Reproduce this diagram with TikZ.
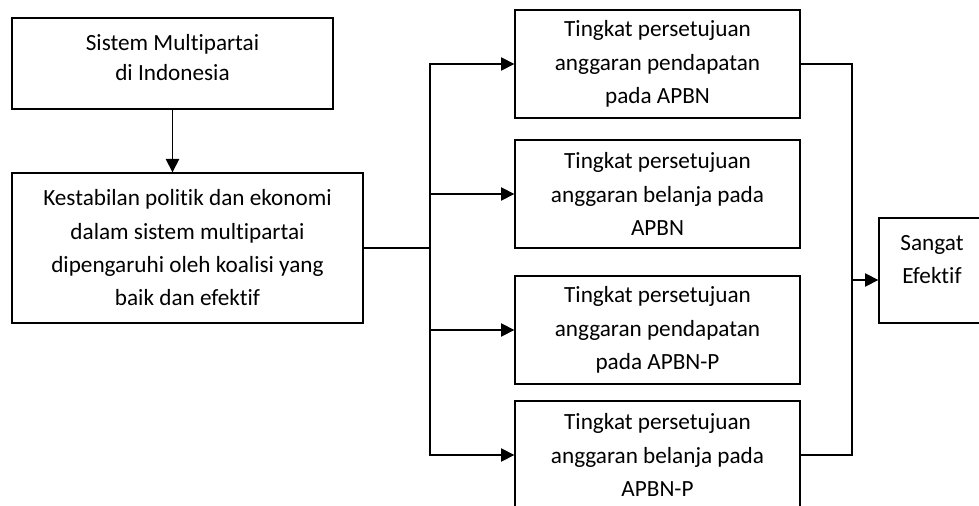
\documentclass[tikz,border=0pt]{standalone}
\usepackage{fontspec}
\setmainfont{Carlito}[RawFeature={-liga}]
\usetikzlibrary{arrows.meta}
\usetikzlibrary{positioning}

\begin{document}
\begin{tikzpicture}[>={Triangle[length=10pt,width=10pt]}, x=0.75pt, y=-0.75pt, line width=1pt,
	every node/.style={font=\fontsize{17.4}{25}\selectfont},
	box/.style={draw, rectangle, line width=1pt, align=center, inner sep=0pt},
	kolom/.style={box, minimum width=213.75pt, minimum height=81pt}]

	\clip (0,0) rectangle (979,506);

	% Kotak kiri
	% ----------
	\node[box, minimum width=240.75pt, minimum height=68.25pt,
		  label={[align=center, yshift=4.5pt, font=\fontsize{17.4}{22}\selectfont]center:Sistem Multipartai\\di Indonesia}]
		  (sistem) at (172.5,63.5) {};
	\node[box, minimum width=263.25pt, minimum height=112.5pt]
		  (stabil) at (187.5,248) {Kestabilan politik dan ekonomi\\dalam sistem multipartai\\dipengaruhi oleh koalisi yang\\baik dan efektif};

	% Kotak tengah
	% ------------
	\node[kolom] (pendA) at (657.5,64) {Tingkat persetujuan\\anggaran pendapatan\\pada APBN};
	\node[kolom] (belanjaA) at (657.5,194) {Tingkat persetujuan\\anggaran belanja pada\\APBN};
	\node[kolom] (pendP) at (657.5,330) {Tingkat persetujuan\\anggaran pendapatan\\pada APBN-P};
	\node[kolom] (belanjaP) at (657.5,455) {Tingkat persetujuan\\anggaran belanja pada\\APBN-P};

	% Kotak kanan
	% -----------
	\node[box, minimum width=79.5pt, minimum height=78.75pt,
		  label={[align=center, yshift=8pt]center:Sangat\\Efektif}]
		  (efektif) at (932,270.5) {};

	% Panah
	\draw [->] (sistem.south) -- (sistem.south |- stabil.north);

	\coordinate (bus) at (430,248);
	\draw (stabil.east) -- (bus);
	\foreach \n in {pendA,belanjaA,pendP,belanjaP}
		\draw [->] (bus) |- (\n);

	\coordinate (gabung) at (852,280);
	\draw (pendA.east) -| (gabung);
	\draw (belanjaP.east) -| (gabung);
	\draw [->] (gabung) -- (gabung -| efektif.west);

\end{tikzpicture}
\end{document}
